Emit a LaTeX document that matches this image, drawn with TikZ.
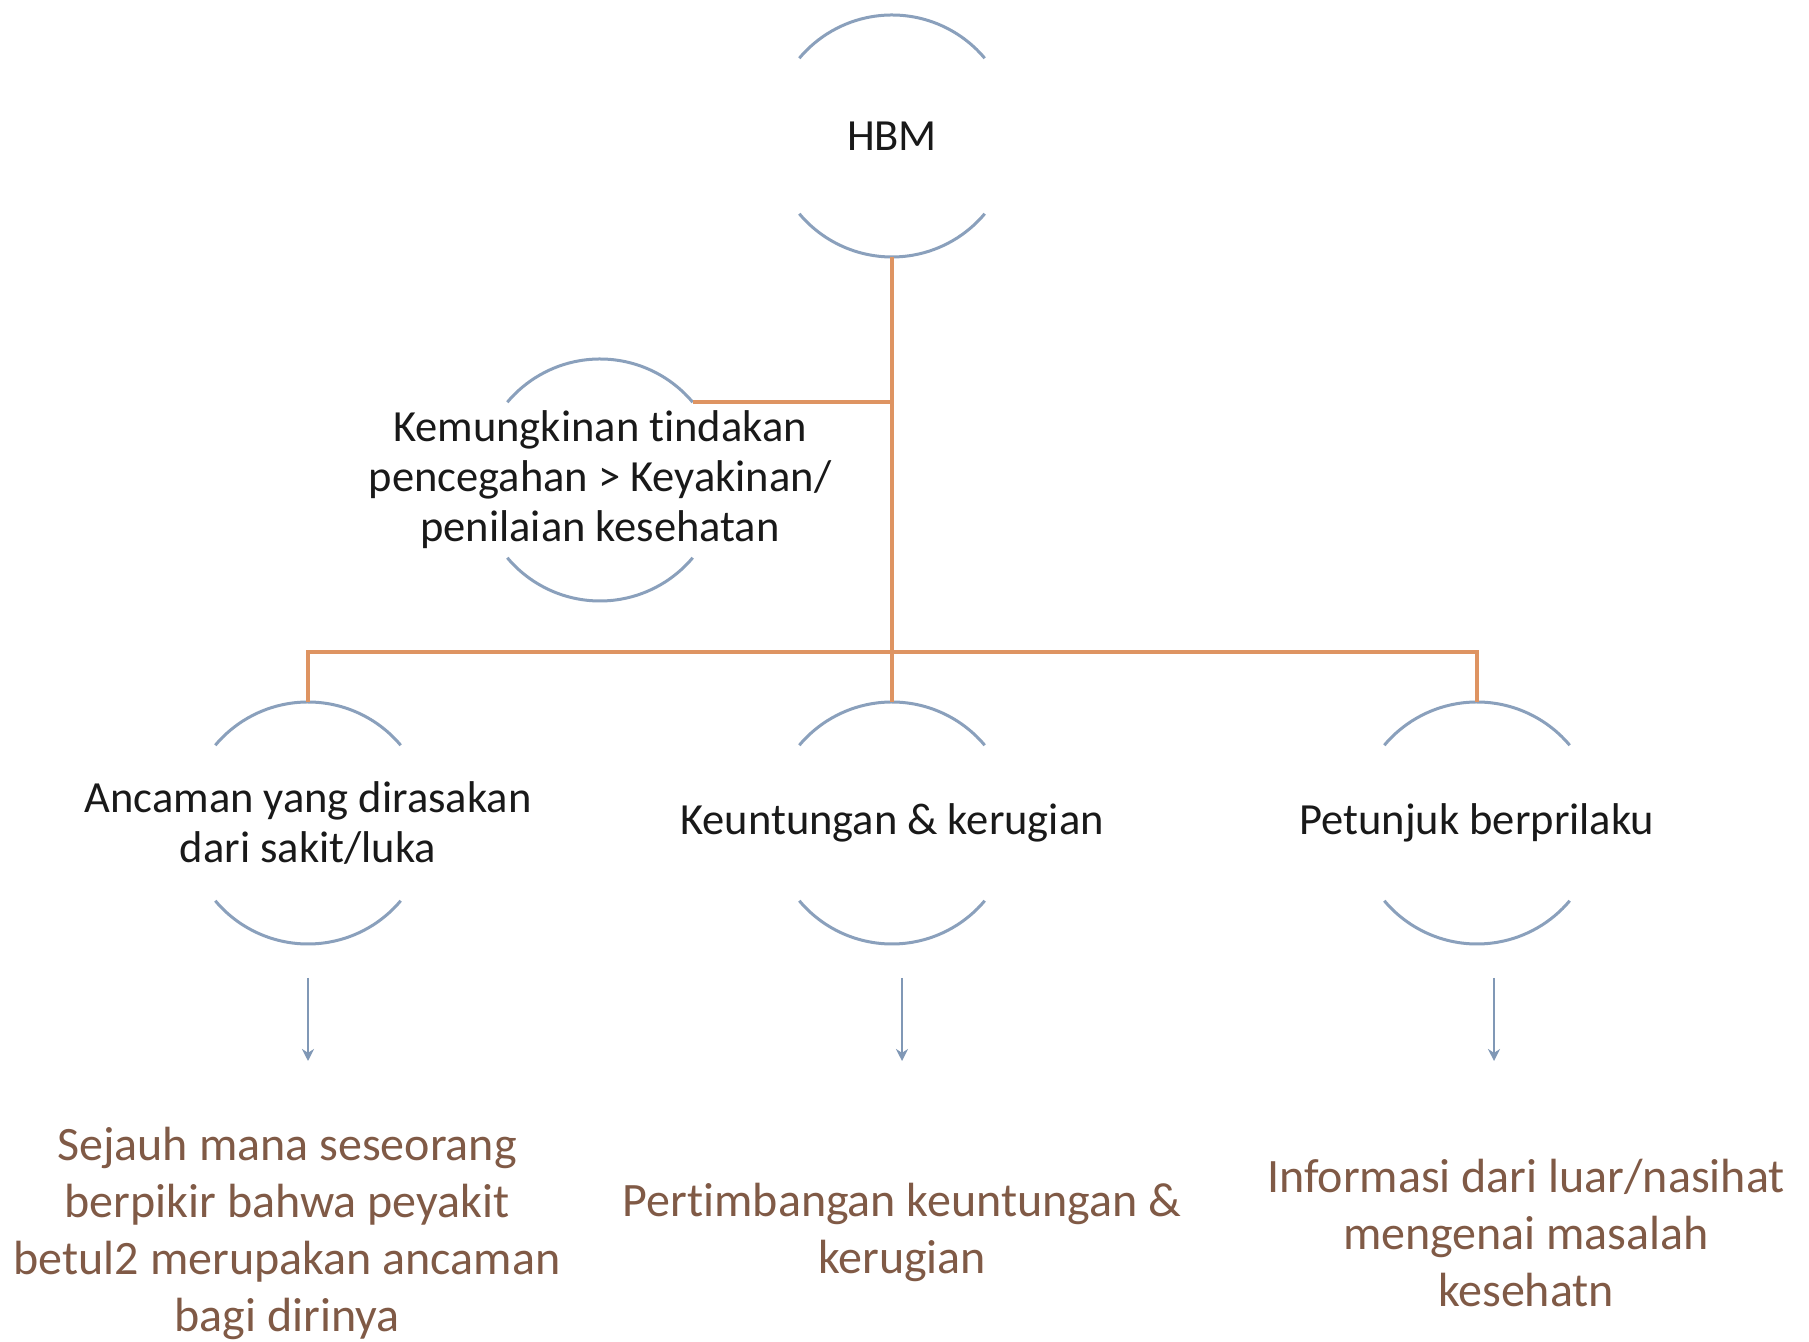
\documentclass[tikz,border=0pt]{standalone}
\usepackage{fontspec}
\setmainfont{Carlito}[Ligatures=NoCommon]
\usetikzlibrary{arrows.meta}
\definecolor{arcblue}{RGB}{138,160,188}
\definecolor{conorange}{RGB}{222,148,98}
\definecolor{txtbrown}{RGB}{128,90,70}
\definecolor{arrowblue}{RGB}{128,152,182}
\begin{document}
\begin{tikzpicture}[x=1pt,y=1pt,
  ring/.style={circle,minimum size=242pt,inner sep=0pt,outer sep=0pt},
  ctext/.style={align=center,font=\fontsize{44.5}{50}\selectfont,text=black!90,inner sep=0pt},
  btext/.style={align=center,font=\fontsize{48}{57}\selectfont,text=txtbrown,inner sep=0pt},
  arcline/.style={draw=arcblue,line width=3pt},
  orangeline/.style={draw=conorange,line width=4pt},
  downarrow/.style={draw=arrowblue,line width=2pt,-{Stealth[length=12pt,width=12pt]}}]
\useasboundingbox[fill=white] (0,0) rectangle (1809,1341);
% circle nodes
\node[ring] (hbm) at (892,1205) {};
\node[ring] (kp) at (600,861) {};
\node[ring] (ac) at (308,518) {};
\node[ring] (ku) at (892,518) {};
\node[ring] (pb) at (1477,518) {};
\foreach \n in {hbm,kp,ac,ku,pb}{
  \draw[arcline] (\n.40) arc[start angle=40,end angle=140,radius=121];
  \draw[arcline] (\n.220) arc[start angle=220,end angle=320,radius=121];
}
% texts inside circles
\node[ctext] (hbmt) at (hbm.center) {HBM};
\node[ctext] (kpt) at (kp.center) {Kemungkinan tindakan\\pencegahan > Keyakinan/\\penilaian kesehatan};
\node[ctext] (act) at (ac.center) {Ancaman yang dirasakan\\dari sakit/luka};
\node[ctext] (kut) at (ku.center) {Keuntungan \& kerugian};
\node[ctext] (pbt) at (pb.center) {Petunjuk berprilaku};
% connectors
\draw[orangeline] (hbm.south) -- (ku.north);
\draw[orangeline] (kp.40) -- (kp.40 -| hbm.south);
\draw[orangeline] (ac.north) -- ++(0,50) -| (pb.north);
% bottom texts
\node[btext] (t1) at (287,108) {Sejauh mana seseorang\\berpikir bahwa peyakit\\betul2 merupakan ancaman\\bagi dirinya};
\node[btext] (t2) at (902,109) {Pertimbangan keuntungan \&\\kerugian};
\node[btext] (t3) at (1526,108) {Informasi dari luar/nasihat\\mengenai masalah\\kesehatn};
% arrows
\coordinate (a1s) at (308,363); \coordinate (a1e) at (308,280);
\coordinate (a2s) at (902,363); \coordinate (a2e) at (902,280);
\coordinate (a3s) at (1494,363); \coordinate (a3e) at (1494,280);
\draw[downarrow] (a1s) -- (a1e);
\draw[downarrow] (a2s) -- (a2e);
\draw[downarrow] (a3s) -- (a3e);
\end{tikzpicture}
\end{document}
